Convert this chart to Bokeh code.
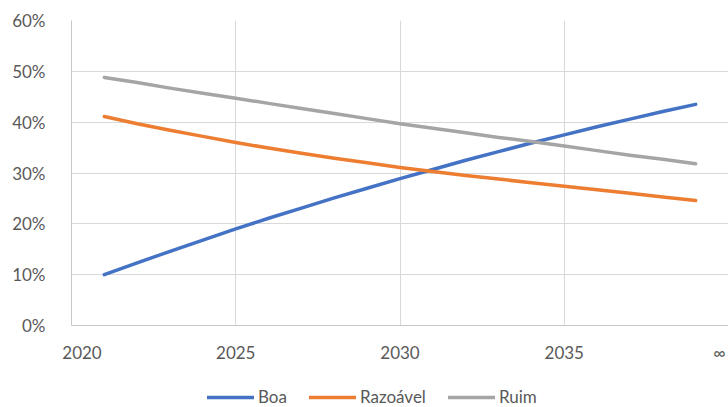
from bokeh.plotting import figure
from bokeh.layouts import column
from bokeh.models import (ColumnDataSource, Range1d, FixedTicker, PrintfTickFormatter,
                          CustomJSTickFormatter, Legend, LegendItem)
from bokeh.embed import file_html
from bokeh.resources import INLINE

# ---- data (percent) ----
years = list(range(2021, 2040))
boa = [10.0, 12.3, 14.6, 16.8, 19.0, 21.1, 23.1, 25.1, 27.0, 28.9,
       30.7, 32.5, 34.2, 35.9, 37.5, 39.1, 40.6, 42.1, 43.5]
razoavel = [41.1, 39.7, 38.4, 37.2, 36.0, 34.9, 33.9, 32.9, 32.0, 31.1,
            30.3, 29.5, 28.8, 28.1, 27.4, 26.7, 26.0, 25.3, 24.6]
ruim = [48.8, 47.8, 46.7, 45.7, 44.7, 43.7, 42.7, 41.7, 40.7, 39.7,
        38.8, 37.9, 37.0, 36.2, 35.3, 34.4, 33.5, 32.7, 31.8]
series_names = ["Boa", "Razoável", "Ruim"]
series_colors = ["#4472C4", "#ED7D31", "#A5A5A5"]

x_ticks = [2020, 2025, 2030, 2035, 2040]
x_tick_labels = ["2020", "2025", "2030", "2035", "∞"]
y_ticks = [0, 10, 20, 30, 40, 50, 60]

# ---- style / layout ----
FONT = "Lato"
TXT = "#595959"
W = 728
FRAME_L, FRAME_T, FRAME_B = 71, 20, 325
H1 = 365
H2 = 407 - H1
x_label_nudge_px = [10.5, 0, 0, 0, -9]
LEGEND_X = 207

src = ColumnDataSource(dict(year=years, boa=boa, razoavel=razoavel, ruim=ruim))

p = figure(width=W, height=H1, output_backend="svg", toolbar_location=None,
           x_range=Range1d(x_ticks[0], x_ticks[-1]), y_range=Range1d(y_ticks[0], y_ticks[-1]),
           min_border_left=FRAME_L, min_border_right=0, min_border_top=FRAME_T,
           min_border_bottom=H1 - FRAME_B)
p.outline_line_color = None
p.background_fill_color = "white"
p.border_fill_color = "white"

# grid
p.xgrid.ticker = FixedTicker(ticks=x_ticks)
p.ygrid.ticker = FixedTicker(ticks=y_ticks)
p.grid.grid_line_color = "#D9D9D9"
p.grid.grid_line_width = 1

# y axis
p.yaxis.ticker = FixedTicker(ticks=y_ticks)
p.yaxis.formatter = PrintfTickFormatter(format="%d%%")
p.yaxis.major_label_text_font = FONT
p.yaxis.major_label_text_font_size = "17px"
p.yaxis.major_label_text_color = TXT
p.yaxis.major_tick_out = 0
p.yaxis.major_tick_in = 0
p.yaxis.minor_tick_out = 0
p.yaxis.minor_tick_in = 0
p.yaxis.axis_line_color = "#C8C8C8"
p.yaxis.major_label_standoff = 26

# x axis: labels nudged inward at the ends like the reference
frame_w = W - FRAME_L
px_per_unit = frame_w / (x_ticks[-1] - x_ticks[0])
label_pos = [t + d / px_per_unit for t, d in zip(x_ticks, x_label_nudge_px)]
p.xaxis.ticker = FixedTicker(ticks=label_pos)
p.xaxis.formatter = CustomJSTickFormatter(args=dict(labels=x_tick_labels),
                                          code="return labels[index];")
p.xaxis.major_label_text_font = FONT
p.xaxis.major_label_text_font_size = "17px"
p.xaxis.major_label_text_color = TXT
p.xaxis.major_tick_out = 0
p.xaxis.major_tick_in = 0
p.xaxis.minor_tick_out = 0
p.xaxis.minor_tick_in = 0
p.xaxis.axis_line_color = "#C8C8C8"
p.xaxis.major_label_standoff = 16

# lines
cols = ["boa", "razoavel", "ruim"]
for col, color in zip(cols, series_colors):
    p.line(x="year", y=col, source=src, line_width=3.5, line_color=color,
           line_cap="round", line_join="round")

# ---- legend strip (frame aligned with main plot by the column layout) ----
# its range lies below the data, so its own line renderers (needed only to
# draw the legend swatches) stay out of view
p2 = figure(width=W, height=H2, output_backend="svg", toolbar_location=None,
            x_axis_type=None, y_axis_type=None,
            x_range=Range1d(x_ticks[0], x_ticks[-1]), y_range=Range1d(-2, -1),
            min_border_left=0, min_border_right=0, min_border_top=0, min_border_bottom=0)
p2.outline_line_color = None
p2.grid.visible = False
p2.background_fill_color = "white"
p2.border_fill_color = "white"
leg_renderers = [p2.line(x="year", y=col, source=src, line_width=3.5,
                         line_color=c, line_cap="round")
                 for col, c in zip(cols, series_colors)]
legend = Legend(items=[LegendItem(label=n, renderers=[r]) for n, r in zip(series_names, leg_renderers)],
                location=(LEGEND_X - FRAME_L, 0), orientation="horizontal",
                glyph_width=47, glyph_height=20, label_standoff=4, spacing=22,
                padding=0, margin=0, border_line_alpha=0, background_fill_alpha=0,
                label_text_font=FONT, label_text_font_size="17px", label_text_color=TXT,
                label_height=20)
p2.add_layout(legend, "center")

layout = column(p, p2, spacing=0)
open("out.html", "w").write(file_html(layout, INLINE))
